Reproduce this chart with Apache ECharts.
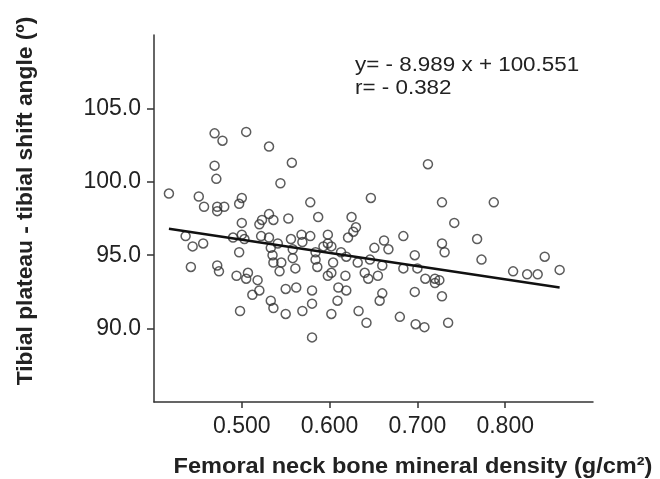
<!DOCTYPE html>
<html>
<head>
<meta charset="utf-8">
<script src="https://cdn.jsdelivr.net/npm/echarts@6/dist/echarts.min.js"></script>
<style>html,body{margin:0;padding:0;background:#fff}#c{width:660px;height:479px}</style>
</head>
<body>
<div id="c"></div>
<script>
// Femoral neck BMD (g/cm2)
const bmd = [0.417,0.469,0.478,0.505,0.531,0.557,0.469,0.471,0.544,0.451,0.457,0.472,0.472,0.480,0.497,0.500,0.578,0.500,0.520,0.523,0.531,0.536,0.553,0.587,0.436,0.444,0.456,0.490,0.500,0.503,0.497,0.522,0.442,0.472,0.474,0.494,0.507,0.505,0.518,0.512,0.520,0.498,0.625,0.630,0.627,0.621,0.647,0.531,0.541,0.533,0.535,0.536,0.545,0.543,0.556,0.568,0.578,0.569,0.598,0.598,0.593,0.602,0.613,0.619,0.558,0.558,0.561,0.584,0.584,0.586,0.604,0.602,0.598,0.618,0.632,0.640,0.644,0.646,0.550,0.562,0.580,0.580,0.610,0.619,0.609,0.533,0.536,0.550,0.569,0.602,0.633,0.642,0.580,0.728,0.742,0.684,0.662,0.651,0.667,0.728,0.731,0.697,0.660,0.655,0.684,0.700,0.709,0.720,0.725,0.720,0.697,0.660,0.657,0.728,0.680,0.698,0.708,0.735,0.768,0.773,0.809,0.825,0.837,0.845,0.862,0.787,0.712];
// Tibial plateau - tibial shift angle (deg)
const angle = [99.2,103.3,102.8,103.4,102.4,101.3,101.1,100.2,99.9,99.0,98.3,98.3,98.0,98.3,98.5,98.9,98.6,97.2,97.1,97.4,97.8,97.4,97.5,97.6,96.3,95.6,95.8,96.2,96.4,96.1,95.2,96.3,94.2,94.3,93.9,93.6,93.8,93.4,93.3,92.3,92.6,91.2,97.6,96.9,96.6,96.2,98.9,96.2,95.8,95.5,95.0,94.5,94.5,93.9,96.1,96.4,96.3,95.9,96.4,95.8,95.6,95.6,95.2,94.9,95.4,94.8,94.1,95.2,94.7,94.2,94.5,93.8,93.6,93.6,94.5,93.8,93.4,94.7,92.7,92.8,92.6,91.7,92.8,92.6,91.9,91.9,91.4,91.0,91.2,91.0,91.2,90.4,89.4,98.6,97.2,96.3,96.0,95.5,95.4,95.8,95.2,95.0,94.3,93.6,94.1,94.1,93.4,93.4,93.3,93.1,92.5,92.4,91.9,92.2,90.8,90.3,90.1,90.4,96.1,94.7,93.9,93.7,93.7,94.9,94.0,98.6,101.2];
// Regression line end points (y = -8.989x + 100.551)
const fitX = [0.417, 0.862];
const fitY = [96.80, 92.80];
const xTicks = [0.5, 0.6, 0.7, 0.8];
const yTicks = [90, 95, 100, 105];
const eqText = 'y= - 8.989 x + 100.551';
const rText = 'r= - 0.382';
const xTitle = 'Femoral neck bone mineral density (g/cm²)';
const yTitle = 'Tibial plateau - tibial shift angle (º)';

const chart = echarts.init(document.getElementById('c'), null, {renderer: 'canvas'});
const font = '"Liberation Sans", Arial, sans-serif';
const axisColor = '#333';
chart.setOption({
  animation: false,
  backgroundColor: '#fff',
  grid: {left: 154, right: 67, top: 35, bottom: 77, containLabel: false},
  xAxis: {
    type: 'value', min: 0.4, max: 0.9,
    axisLine: {show: true, lineStyle: {color: axisColor, width: 1.5}},
    axisTick: {show: true, length: 6, lineStyle: {color: axisColor, width: 1.5}, customValues: xTicks},
    axisLabel: {color: '#222', fontFamily: font, fontSize: 23, margin: 13, customValues: xTicks, formatter: v => v.toFixed(3)},
    splitLine: {show: false}
  },
  yAxis: {
    type: 'value', min: 85, max: 110,
    axisLine: {show: true, lineStyle: {color: axisColor, width: 1.5}},
    axisTick: {show: true, length: 7, lineStyle: {color: axisColor, width: 1.5}, customValues: yTicks},
    axisLabel: {color: '#222', fontFamily: font, fontSize: 23, margin: 13, customValues: yTicks, formatter: v => v.toFixed(1)},
    splitLine: {show: false}
  },
  graphic: [
    {type: 'text', x: 355, y: 65, scaleX: 1.12, style: {text: eqText, font: '20px ' + font, fill: '#222', verticalAlign: 'middle'}},
    {type: 'text', x: 355, y: 88, scaleX: 1.12, style: {text: rText, font: '20px ' + font, fill: '#222', verticalAlign: 'middle'}},
    {type: 'text', x: 413, y: 467, scaleX: 1.07, style: {text: xTitle, font: 'bold 22px ' + font, fill: '#222', align: 'center', verticalAlign: 'middle'}},
    {type: 'text', x: 26, y: 201, rotation: Math.PI / 2, scaleX: 1.035, style: {text: yTitle, font: 'bold 22px ' + font, fill: '#222', align: 'center', verticalAlign: 'middle'}}
  ],
  series: [
    {
      type: 'scatter',
      data: bmd.map((x, i) => [x, angle[i]]),
      symbol: 'circle', symbolSize: 9,
      itemStyle: {color: 'rgba(255,255,255,0)', borderColor: '#333', borderWidth: 1.5}
    },
    {
      type: 'line',
      data: fitX.map((x, i) => [x, fitY[i]]),
      symbol: 'none',
      lineStyle: {color: '#111', width: 2.5}
    }
  ]
});
</script>
</body>
</html>
